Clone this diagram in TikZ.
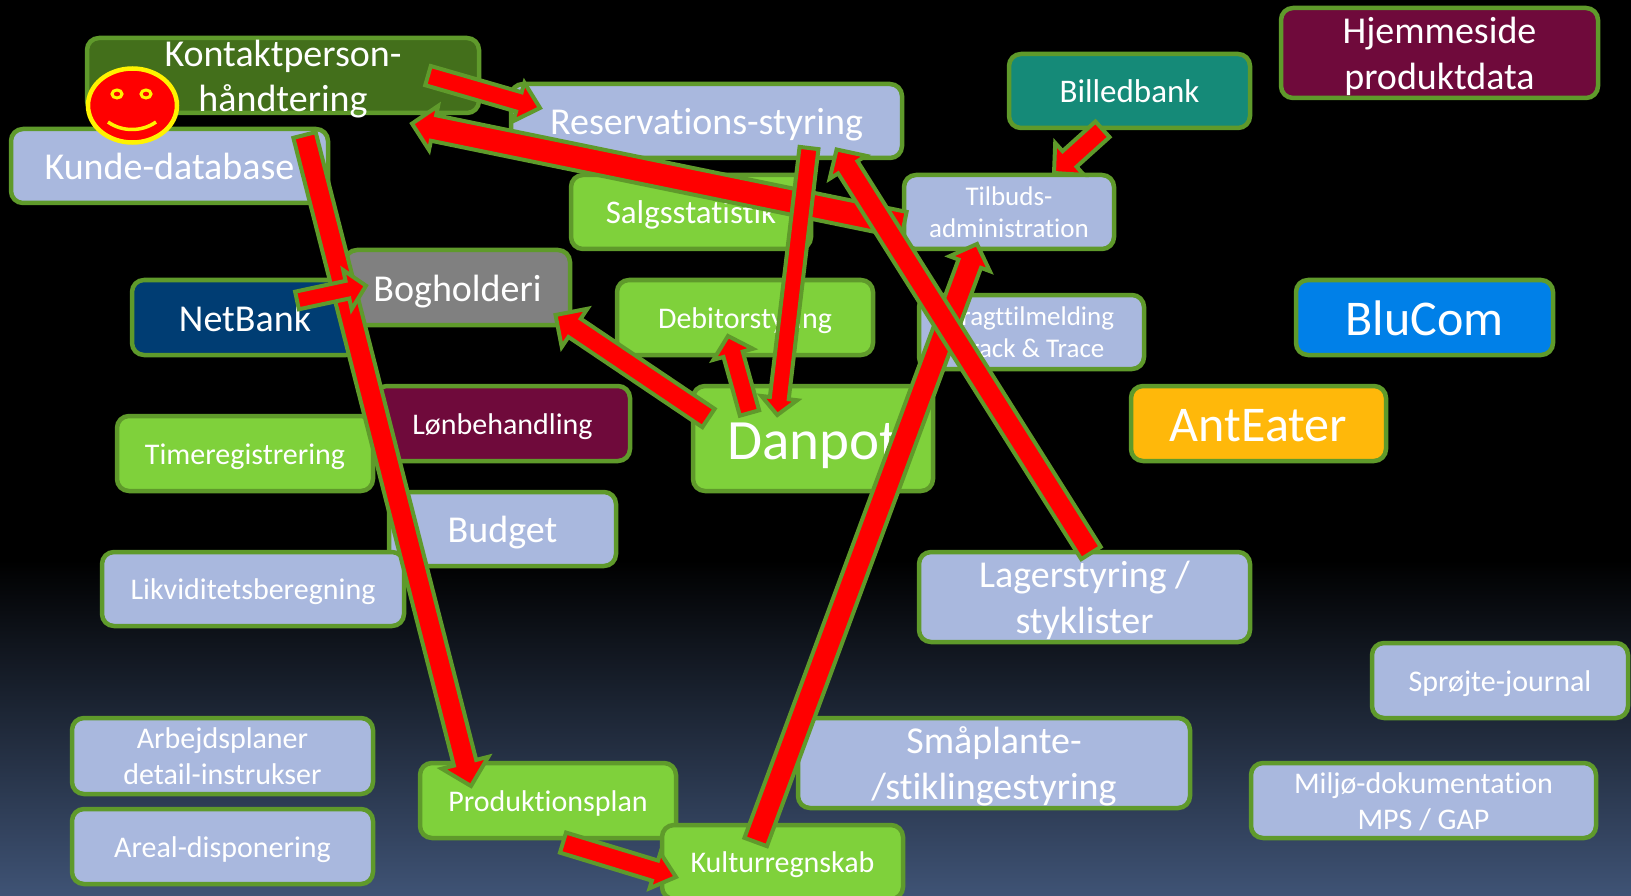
\documentclass[tikz,border=0pt]{standalone}
\usepackage{fontspec}
\setmainfont{Carlito}[Ligatures=NoCommon]
\usetikzlibrary{calc,shapes.geometric}
\definecolor{edgeG}{HTML}{5F9A2B}
\definecolor{peri}{HTML}{A9B8DE}
\definecolor{lgreen}{HTML}{7FD13B}
\definecolor{dgreen}{HTML}{436F1B}
\definecolor{navy}{HTML}{003D73}
\definecolor{maroon}{HTML}{6F0A3B}
\definecolor{teal2}{HTML}{158A78}
\definecolor{blue2}{HTML}{0080E8}
\definecolor{amber}{HTML}{FFB80A}
\definecolor{bgbottom}{HTML}{3F5375}
\tikzset{
  boxbase/.style={draw=edgeG,line width=4.5pt,rounded corners=12pt,text=white,inner sep=0pt,outer sep=0pt},
  fs/.code={\pgfmathsetmacro\lsk{1.2*#1}\tikzset{font=\fontsize{#1}{\lsk}\selectfont}},
  arrowbody/.style={draw=edgeG,fill=red,line width=4pt,line join=miter,miter limit=10}
}
\newcommand{\bx}[7]{% name,x0,y0,x1,y1,style,text
  \node[boxbase,#6,minimum width={(#4-#2)*1pt-2pt},minimum height={(#5-#3)*1pt-2pt}] (#1) at ({(#2+#4)/2},{(#3+#5)/2}) {\raisebox{-.12em}[0pt][0pt]{\vbox to 0pt{\vss\hbox{\begin{tabular}{@{}c@{}}#7\end{tabular}}\vss}}};}
\newcommand{\blockarrow}[5]{% from,to,half shaft,half head,head length
  \coordinate (H) at ($(#2)!#5pt!(#1)$);
  \draw[arrowbody] ($(#1)!#3pt!90:(#2)$) -- ($(H)!#3pt!-90:(#1)$) -- ($(H)!#4pt!-90:(#1)$) -- (#2)
    -- ($(H)!#4pt!90:(#1)$) -- ($(H)!#3pt!90:(#1)$) -- ($(#1)!#3pt!-90:(#2)$) -- cycle;}
\begin{document}
\begin{tikzpicture}[x=1pt,y=-1pt]
\useasboundingbox (0,0) rectangle (1631,896);
\fill[black] (0,0) rectangle (1631,560);
\shade[top color=black,bottom color=bgbottom,shading angle=0] (0,560) rectangle (1631,896);
% boxes
\bx{hjem}{1280}{7}{1599}{99}{fill=maroon,fs=38}{Hjemmeside\\produktdata}
\bx{bille}{1008}{53}{1251}{129}{fill=teal2,fs=33}{Billedbank}
\bx{kontakt}{86}{37}{480}{114}{fill=dgreen,fs=38}{Kontaktperson-\\håndtering}
\bx{reserv}{510}{83}{903}{159}{fill=peri,fs=38}{Reservations-styring}
\bx{kunde}{10}{128}{329}{204}{fill=peri,fs=38}{Kunde-database}
\bx{salg}{570}{174}{812}{250}{fill=lgreen,fs=33}{Salgsstatistik}
\bx{tilbud}{903}{174}{1115}{250}{fill=peri,fs=27}{Tilbuds-\\administration}
\bx{netb}{131}{279}{359}{356}{fill=navy,fs=38}{NetBank}
\bx{bogh}{344}{249}{571}{326}{fill=gray,fs=38}{Bogholderi}
\bx{debit}{616}{279}{874}{356}{fill=lgreen,fs=30}{Debitorstyring}
\bx{fragt}{918}{294}{1145}{370}{fill=peri,fs=27}{Fragttilmelding\\Track \& Trace}
\bx{blu}{1295}{279}{1554}{356}{fill=blue2,fs=50}{BluCom}
\bx{ant}{1130}{385}{1387}{462}{fill=amber,fs=50}{AntEater}
\bx{lon}{374}{385}{631}{462}{fill=maroon,fs=30}{Lønbehandling}
\bx{time}{116}{415}{374}{492}{fill=lgreen,fs=30}{Timeregistrering}
\bx{danpot}{692}{385}{934}{492}{fill=lgreen,fs=57}{Danpot}
\bx{budget}{388}{491}{617}{567}{fill=peri,fs=38}{Budget}
\bx{likv}{101}{551}{405}{627}{fill=peri,fs=30}{Likviditetsberegning}
\bx{lager}{918}{551}{1251}{643}{fill=peri,fs=38}{Lagerstyring /\\styklister}
\bx{sproj}{1371}{642}{1629}{719}{fill=peri,fs=30}{Sprøjte-journal}
\bx{arb}{71}{717}{374}{795}{fill=peri,fs=30}{Arbejdsplaner\\detail-instrukser}
\bx{smaa}{797}{717}{1191}{809}{fill=peri,fs=38}{Småplante-\\/stiklingestyring}
\bx{milj}{1250}{762}{1597}{839}{fill=peri,fs=30}{Miljø-dokumentation\\MPS / GAP}
\bx{prod}{419}{762}{677}{839}{fill=lgreen,fs=30}{Produktionsplan}
\bx{areal}{71}{808}{374}{885}{fill=peri,fs=30}{Areal-disponering}
\bx{kultur}{661}{824}{904}{900}{fill=lgreen,fs=30}{Kulturregnskab}
% smiley
\node[draw=yellow,fill=red,line width=4.5pt,ellipse,minimum width=89pt,minimum height=74pt,inner sep=0pt] (smile) at (132.5,105.5) {};
\draw[yellow,line width=3pt] (117,94) ellipse [x radius=5pt,y radius=4pt];
\draw[yellow,line width=3pt] (146,94) ellipse [x radius=5pt,y radius=4pt];
\draw[yellow,line width=3.5pt] (108,122) .. controls (122,132) and (142,132) .. (156,122);
% connector ends
\coordinate (tilbudOut) at (904,224.6);  \coordinate (kontaktIn) at (412,123.6);
\coordinate (kontaktOutA) at (304.5,135); \coordinate (prodIn) at (471,786);
\coordinate (netbOut) at (297,300.5); \coordinate (boghInA) at (366,285.7);
\coordinate (danpotOutA) at (708.5,418); \coordinate (boghInB) at (555.5,315);
\coordinate (danpotOutB) at (749.5,413); \coordinate (debitIn) at (728,336);
\coordinate (kulturOutA) at (755.7,842); \coordinate (tilbudIn) at (977,244);
\coordinate (lagerOut) at (1091,553); \coordinate (reservIn) at (836.6,149.5);
\coordinate (reservOut) at (809,148); \coordinate (danpotIn) at (777.3,415);
\coordinate (kontaktOutB) at (428,75.6); \coordinate (reservInB) at (540,108);
\coordinate (billeOut) at (1102.5,129.3); \coordinate (tilbudInB) at (1054,173);
\coordinate (prodOut) at (563,842.6); \coordinate (kulturIn) at (676,877);
% connectors
\blockarrow{tilbudOut}{kontaktIn}{13}{22.5}{22}
\blockarrow{kontaktOutA}{prodIn}{11.5}{24}{24}
\blockarrow{netbOut}{boghInA}{9}{20}{19}
\blockarrow{danpotOutA}{boghInB}{11}{23}{23}
\blockarrow{danpotOutB}{debitIn}{10}{20.5}{19}
\blockarrow{kulturOutA}{tilbudIn}{12}{21.5}{21}
\blockarrow{lagerOut}{reservIn}{11.5}{21.5}{21}
\blockarrow{reservOut}{danpotIn}{9.5}{18}{17}
\blockarrow{kontaktOutB}{reservInB}{10}{20}{22}
\blockarrow{billeOut}{tilbudInB}{10.5}{21.5}{21}
\blockarrow{prodOut}{kulturIn}{10.5}{18.5}{22}
\end{tikzpicture}
\end{document}
